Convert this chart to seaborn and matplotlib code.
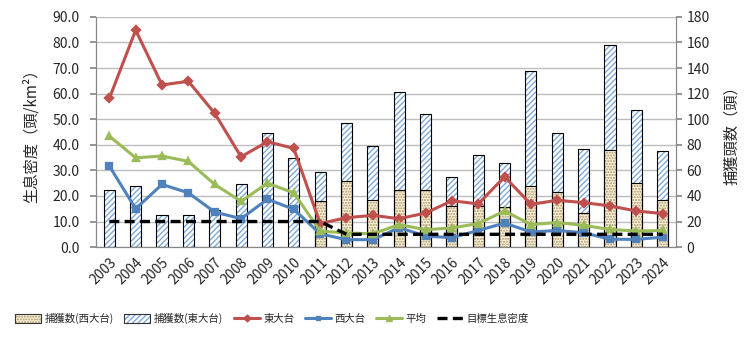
import numpy as np
import matplotlib
matplotlib.use("Agg")
import matplotlib.pyplot as plt
import seaborn as sns
from matplotlib.patches import Patch
from matplotlib.lines import Line2D
from matplotlib.legend_handler import HandlerTuple
from matplotlib.ticker import FormatStrFormatter, MultipleLocator

# data
years = [str(y) for y in range(2003, 2025)]
catch_west = [0, 0, 0, 0, 0, 0, 0, 0, 36, 52, 37, 45, 45, 32, 32, 31, 48, 43, 27, 76, 50, 37]
catch_total = [45, 48, 25, 25, 29, 49, 89, 70, 59, 97, 79, 121, 104, 55, 72, 66, 138, 89, 77, 158, 107, 75]
dens_east = [58.1, 84.8, 63.4, 64.8, 52.3, 35.3, 41.2, 38.6, 9.2, 11.5, 12.4, 11.1, 13.3,
             18.1, 16.9, 27.5, 16.7, 18.3, 17.4, 16.1, 14.1, 13.1]
dens_west = [31.7, 15.0, 24.5, 21.2, 13.7, 11.1, 18.7, 14.8, 5.2, 2.9, 2.9, 7.6, 4.3,
             3.7, 6.5, 9.4, 5.9, 6.5, 5.6, 3.1, 3.0, 3.9]
dens_avg = [43.4, 34.9, 35.6, 33.5, 24.5, 17.9, 25.0, 21.2, 6.3, 5.5, 5.2, 8.8, 6.8,
            7.5, 9.2, 14.1, 8.8, 9.6, 8.5, 6.9, 6.3, 6.5]
target = [10] * 9 + [5] * 13

sns.set_theme(style="white")
plt.rcParams["font.family"] = ["Noto Sans CJK JP", "DejaVu Sans"]

red, blue, green = "#C0504D", "#4F81BD", "#9BBB59"
hatch_blue = "#7FA9D6"
dot_brown = "#A89468"
west_fill = "#FBF3DA"

fig, ax = plt.subplots(figsize=(7.51, 3.51), dpi=100)
fig.subplots_adjust(left=0.128, right=0.900, top=0.952, bottom=0.296)
ax2 = ax.twinx()

# bars (right axis)
bw = 0.42
sns.barplot(x=years, y=catch_total, ax=ax2, color="white", saturation=1, width=bw,
            edgecolor=hatch_blue, linewidth=0, hatch="//////", errorbar=None)
sns.barplot(x=years, y=catch_west, ax=ax2, color=west_fill, saturation=1, width=bw,
            edgecolor=dot_brown, linewidth=0, hatch="......", errorbar=None)
sns.barplot(x=years, y=catch_total, ax=ax2, color="black", fill=False, saturation=1,
            width=bw, linewidth=0.8, errorbar=None)
sns.barplot(x=years, y=catch_west, ax=ax2, color="black", fill=False, saturation=1,
            width=bw, linewidth=0.8, errorbar=None)
ax2.set_ylim(0, 180)
ax2.yaxis.set_major_locator(MultipleLocator(20))
ax2.grid(axis="y", color="#BDBDBD", linewidth=1.0)
ax2.set_axisbelow(True)
ax2.set_ylabel("捕獲頭数（頭）", fontsize=11, labelpad=10)

# lines (left axis)
sns.pointplot(x=years, y=dens_east, ax=ax, color=red, markers="D", markersize=4,
              linewidth=2.2, errorbar=None)
sns.pointplot(x=years, y=dens_west, ax=ax, color=blue, markers="s", markersize=4,
              linewidth=2.2, errorbar=None)
sns.pointplot(x=years, y=dens_avg, ax=ax, color=green, markers="^", markersize=5,
              linewidth=2.2, errorbar=None)
sns.pointplot(x=years, y=target, ax=ax, color="black", markers="", linestyles="--",
              linewidth=2.4, errorbar=None)
ax.lines[-1].set_dashes((3, 1.6))
ax.set_ylim(0, 90)
ax.yaxis.set_major_locator(MultipleLocator(10))
ax.yaxis.set_major_formatter(FormatStrFormatter("%.1f"))
ax.set_ylabel("生息密度（頭/km²）", fontsize=11, labelpad=9)
ax.set_zorder(ax2.get_zorder() + 1)
ax.patch.set_visible(False)
ax.set_xlim(-0.5, len(years) - 0.5)

# x axis: labels at centres, tick marks between categories
ax.set_xticks(range(len(years)))
ax.set_xticklabels(years, rotation=45, ha="right", rotation_mode="anchor", fontsize=10)
ax.set_xticks(np.arange(-0.5, len(years), 1), minor=True)
ax.tick_params(axis="x", which="major", length=0, pad=6)
ax.tick_params(axis="x", which="minor", length=5, color="#888888", direction="out")
ax.tick_params(axis="y", labelsize=10, length=4, pad=8, color="#888888", direction="out", left=True)
ax2.tick_params(axis="y", labelsize=10, length=4, color="#888888", direction="out", right=True)

for a in (ax, ax2):
    a.spines["top"].set_visible(False)
    for s in ("left", "right", "bottom"):
        a.spines[s].set_color("#888888")
        a.spines[s].set_linewidth(0.8)

outline = Patch(facecolor="none", edgecolor="#333333", linewidth=0.8)
handles = [
    (Patch(facecolor=west_fill, edgecolor=dot_brown, hatch="......", linewidth=0), outline),
    (Patch(facecolor="white", edgecolor=hatch_blue, hatch="//////", linewidth=0), outline),
    Line2D([], [], color=red, marker="D", markersize=3.5, linewidth=2.2),
    Line2D([], [], color=blue, marker="s", markersize=3.5, linewidth=2.2),
    Line2D([], [], color=green, marker="^", markersize=4.5, linewidth=2.2),
    Line2D([], [], color="black", linestyle=(0, (3, 1.6)), linewidth=2.4),
]
labels = ["捕獲数(西大台)", "捕獲数(東大台)", "東大台", "西大台", "平均", "目標生息密度"]
fig.legend(handles, labels, loc="center", bbox_to_anchor=(0.362, 0.093), ncol=6,
           frameon=False, fontsize=7.5, handlelength=2.5, handleheight=0.9,
           handletextpad=0.35, columnspacing=1.0,
           handler_map={tuple: HandlerTuple(ndivide=1, pad=0)})

fig.savefig("out.png", dpi=100)
